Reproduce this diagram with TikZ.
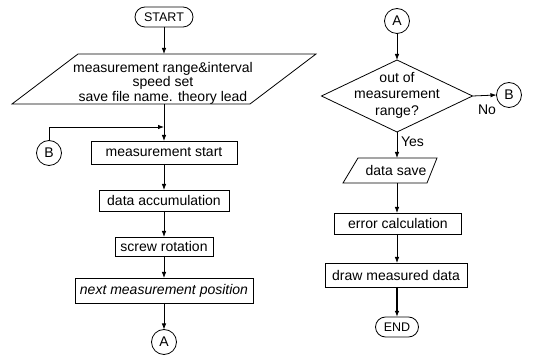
\documentclass[tikz,border=0pt]{standalone}
\usepackage{fontspec}
\setmainfont{Liberation Sans}
\usetikzlibrary{shapes.geometric,shapes.misc,arrows.meta,calc}
\begin{document}
\begin{tikzpicture}[x=1pt,y=-1pt,
  every node/.style={inner sep=0pt, outer sep=0pt},
  txt/.style={font=\fontsize{14}{14}\selectfont},
  outl/.style={draw, line width=0.8pt},
  proc/.style={outl, txt, rectangle},
  term/.style={outl, rounded rectangle, font=\fontsize{12.5}{12.5}\selectfont, minimum height=20},
  conn/.style={outl, circle, minimum size=25, txt},
  flow/.style={draw, line width=0.8pt, -{Latex[length=6pt,width=4.5pt]}}]
\useasboundingbox (0,0) rectangle (536,355);

% left column
\node[term, minimum width=58] (start) at (164,17) {START};
\node[minimum width=238, minimum height=50] (inp) at (164,79) {};
\draw[outl] ($(inp.north west)+(33,0)$) -- ($(inp.north east)+(33,0)$)
  -- ($(inp.south east)+(-33,0)$) -- ($(inp.south west)+(-33,0)$) -- cycle;
\node[align=center, font=\fontsize{14}{14.5}\selectfont] (inptext) at (163,83)
  {measurement range\&interval\\speed set\\save file name. theory lead};
\node[proc, minimum width=146, minimum height=23] (ms) at (164,152.5) {measurement start};
\node[proc, minimum width=130, minimum height=21] (da) at (164,200.5) {data accumulation};
\node[proc, minimum width=98, minimum height=19] (sr) at (164,246.5) {screw rotation};
\node[proc, minimum width=178, minimum height=25] (nm) at (164,290.5) {\itshape next measurement position};
\node[conn] (al) at (164,342) {A};
\node[conn] (bl) at (49,153) {B};
\coordinate (j) at (164,127);

\draw[flow] (start) -- (inp.north);
\draw[flow] (inp.south) -- (ms.north);
\draw[flow] (bl.north) |- (j);
\draw[flow] (ms) -- (da);
\draw[flow] (da) -- (sr);
\draw[flow] (sr) -- (nm);
\draw[flow] (nm) -- (al);

% right column
\node[conn] (ar) at (397,21) {A};
\node[outl, diamond, minimum width=151, minimum height=72] (dec) at (397,96) {};
\node[align=center, font=\fontsize{14}{16.5}\selectfont] (dectext) at (397,95)
  {out of\\measurement\\range?};
\node[conn] (br) at (509,95) {B};
\node[txt] (no) at (487,110) {No};
\node[txt, anchor=west] (yes) at (401,142) {Yes};
\node[txt, minimum width=82, minimum height=25] (ds) at (396,170.5) {data save};
\draw[outl] ($(ds.north west)+(3,0)$) -- ($(ds.north east)+(0,0)$)
  -- ($(ds.south east)+(-10,0)$) -- ($(ds.south west)+(-12,0)$) -- cycle;
\node[proc, minimum width=127, minimum height=21] (ec) at (398,223.5) {error calculation};
\node[proc, minimum width=142, minimum height=24] (dm) at (396,275) {draw measured data};
\node[term, minimum width=43] (end) at (397,327) {END};

\draw[flow] (ar) -- (dec.north);
\draw[flow] (dec.east) -- (br.west);
\draw[flow] (dec.south) -- (dec.south |- ds.north);
\draw[flow] (dec.south |- ds.south) -- (dec.south |- ec.north);
\draw[flow] (dec.south |- ec.south) -- (dec.south |- dm.north);
\draw[flow, line width=1.2pt] (dec.south |- dm.south) -- (end.north);
\end{tikzpicture}
\end{document}
